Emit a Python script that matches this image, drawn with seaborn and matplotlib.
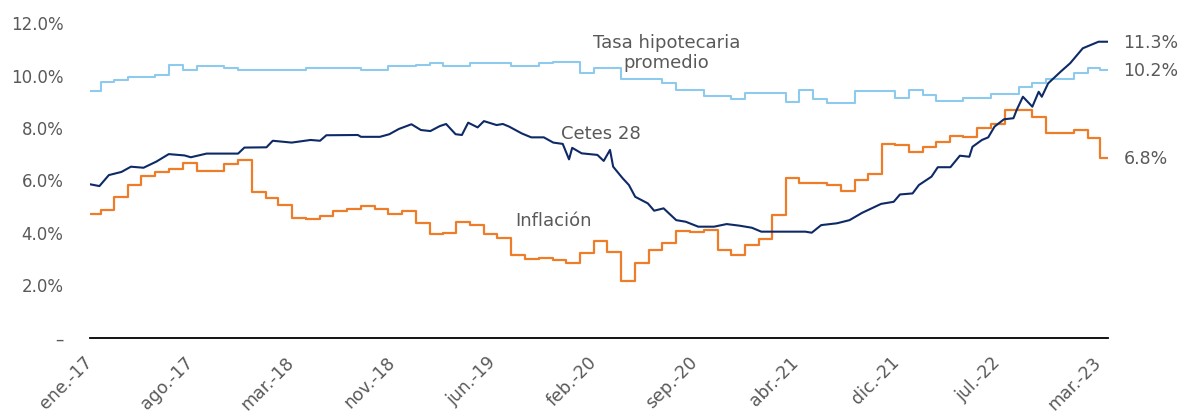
import pandas as pd
import matplotlib
matplotlib.use("Agg")
import matplotlib.pyplot as plt
import matplotlib.ticker as mticker
import seaborn as sns

# semanas desde la primera observacion (ene.-17)
inicio = pd.Timestamp("2017-01-07")
semanas_total = 323

# inflacion anual (%), mensual ene.-17 .. mar.-23
inflacion = [4.72, 4.86, 5.35, 5.82, 6.16, 6.31, 6.44, 6.66, 6.35, 6.37, 6.63, 6.77,
             5.55, 5.34, 5.04, 4.55, 4.51, 4.65, 4.81, 4.90, 5.02, 4.90, 4.72, 4.83,
             4.37, 3.94, 4.00, 4.41, 4.28, 3.95, 3.78, 3.16, 3.00, 3.02, 2.97, 2.83,
             3.24, 3.70, 3.25, 2.15, 2.84, 3.33, 3.62, 4.05, 4.01, 4.09, 3.33, 3.15,
             3.54, 3.76, 4.67, 6.08, 5.89, 5.88, 5.81, 5.59, 6.00, 6.24, 7.37, 7.36,
             7.07, 7.28, 7.45, 7.68, 7.65, 7.99, 8.15, 8.70, 8.70, 8.41, 7.80, 7.82,
             7.91, 7.62, 6.85]

# tasa hipotecaria promedio (%), mensual
hipotecaria = [9.40, 9.75, 9.82, 9.93, 9.93, 10.01, 10.41, 10.22, 10.35, 10.35, 10.29, 10.22,
               10.22, 10.22, 10.22, 10.22, 10.29, 10.29, 10.29, 10.29, 10.22, 10.22, 10.36, 10.36,
               10.41, 10.47, 10.36, 10.36, 10.47, 10.47, 10.47, 10.36, 10.36, 10.47, 10.53, 10.53,
               10.11, 10.27, 10.27, 9.88, 9.88, 9.88, 9.70, 9.46, 9.46, 9.23, 9.23, 9.10,
               9.34, 9.34, 9.34, 8.98, 9.45, 9.09, 8.94, 8.94, 9.40, 9.40, 9.40, 9.15,
               9.45, 9.26, 9.04, 9.04, 9.15, 9.15, 9.28, 9.28, 9.57, 9.70, 9.88, 9.88,
               10.08, 10.27, 10.22]

# Cetes 28 (%), semana de observacion y tasa
cetes_semana = [0, 3, 6, 10, 13, 17, 21, 25, 30, 32, 37, 47, 49, 56, 58, 64, 70, 73, 75,
                85, 86, 92, 95, 98, 102, 105, 108, 111, 113, 116, 118, 120, 123, 125, 129,
                131, 133, 137, 140, 144, 147, 150, 152, 153, 156, 161, 163, 165, 166, 169,
                171, 173, 177, 179, 182, 186, 189, 193, 198, 202, 206, 210, 213, 227, 229,
                232, 237, 241, 245, 251, 255, 257, 261, 263, 267, 269, 273, 276, 279, 280,
                283, 285, 287, 290, 293, 294, 296, 299, 301, 302, 304, 308, 311, 315, 320, 323]
cetes = [5.85, 5.78, 6.20, 6.32, 6.52, 6.48, 6.71, 7.00, 6.95, 6.88, 7.02, 7.02, 7.25, 7.26,
         7.51, 7.44, 7.54, 7.51, 7.72, 7.73, 7.66, 7.66, 7.76, 7.96, 8.14, 7.92, 7.88, 8.07,
         8.15, 7.76, 7.73, 8.20, 8.02, 8.26, 8.11, 8.15, 8.05, 7.79, 7.64, 7.64, 7.44, 7.39,
         6.80, 7.24, 7.03, 6.97, 6.74, 7.16, 6.52, 6.08, 5.82, 5.37, 5.12, 4.84, 4.93, 4.48,
         4.42, 4.23, 4.23, 4.33, 4.27, 4.19, 4.04, 4.04, 4.00, 4.29, 4.36, 4.48, 4.76, 5.10,
         5.18, 5.46, 5.50, 5.82, 6.14, 6.50, 6.50, 6.94, 6.90, 7.28, 7.54, 7.64, 8.05, 8.33,
         8.37, 8.68, 9.19, 8.81, 9.38, 9.19, 9.70, 10.15, 10.47, 11.04, 11.29, 11.29]

etiquetas_x = ["ene.-17", "ago.-17", "mar.-18", "nov.-18", "jun.-19", "feb.-20",
               "sep.-20", "abr.-21", "dic.-21", "jul.-22", "mar.-23"]

fin = inicio + pd.Timedelta(weeks=semanas_total)
meses = pd.date_range("2017-01-01", periods=len(inflacion), freq="MS")
mensual = pd.DataFrame({"fecha": list(meses) + [fin],
                        "inflacion": inflacion + [inflacion[-1]],
                        "hipotecaria": hipotecaria + [hipotecaria[-1]]})
df_cetes = pd.DataFrame({"fecha": inicio + pd.to_timedelta([7 * s for s in cetes_semana], unit="D"),
                         "cetes": cetes})

sns.set_style("white")
plt.rcParams["font.family"] = ["DejaVu Sans"]
gris = "#595959"

fig = plt.figure(figsize=(11.82, 4.13), dpi=100)
ax = fig.add_axes([0.0761, 0.1828, 0.8613, 0.7612])

sns.lineplot(data=mensual, x="fecha", y="hipotecaria", color="#8ECAEE", lw=1.5,
             drawstyle="steps-post", ax=ax)
sns.lineplot(data=mensual, x="fecha", y="inflacion", color="#EE7D2A", lw=1.6,
             drawstyle="steps-post", ax=ax)
sns.lineplot(data=df_cetes, x="fecha", y="cetes", color="#0E2A66", lw=1.5, ax=ax)

ax.set_xlim(inicio, fin)
ax.set_ylim(0, 12)
ax.set_xlabel("")
ax.set_ylabel("")

ticks = [inicio + pd.Timedelta(weeks=32 * k) for k in range(len(etiquetas_x))]
ax.set_xticks(ticks)
ax.set_xticklabels(etiquetas_x, rotation=45, ha="right", va="center",
                   rotation_mode="anchor", fontsize=12.5, color=gris)
ax.set_yticks(range(0, 13, 2))
ax.yaxis.set_major_formatter(mticker.FuncFormatter(
    lambda v, p: "–" if v == 0 else f"{v:.1f}%"))
ax.tick_params(axis="y", length=0, pad=19, labelsize=12, labelcolor=gris)
ax.tick_params(axis="x", length=0, pad=16)

for s in ["top", "right", "left"]:
    ax.spines[s].set_visible(False)
ax.spines["bottom"].set_color("black")
ax.spines["bottom"].set_linewidth(1.3)

semana = lambda s: inicio + pd.Timedelta(weeks=s)
ax.text(semana(183), 10.86, "Tasa hipotecaria\npromedio", ha="center", va="center",
        fontsize=13, color=gris, linespacing=1.2)
ax.text(semana(162), 7.77, "Cetes 28", ha="center", va="center", fontsize=13, color=gris)
ax.text(semana(147), 4.45, "Inflación", ha="center", va="center", fontsize=13, color=gris)

for val in [cetes[-1], hipotecaria[-1], inflacion[-1]]:
    ax.annotate(f"{val:.1f}%", xy=(fin, val), xytext=(11, -1), textcoords="offset points",
                ha="left", va="center", fontsize=12.5, color=gris, annotation_clip=False)

fig.savefig("out.png", dpi=100)
